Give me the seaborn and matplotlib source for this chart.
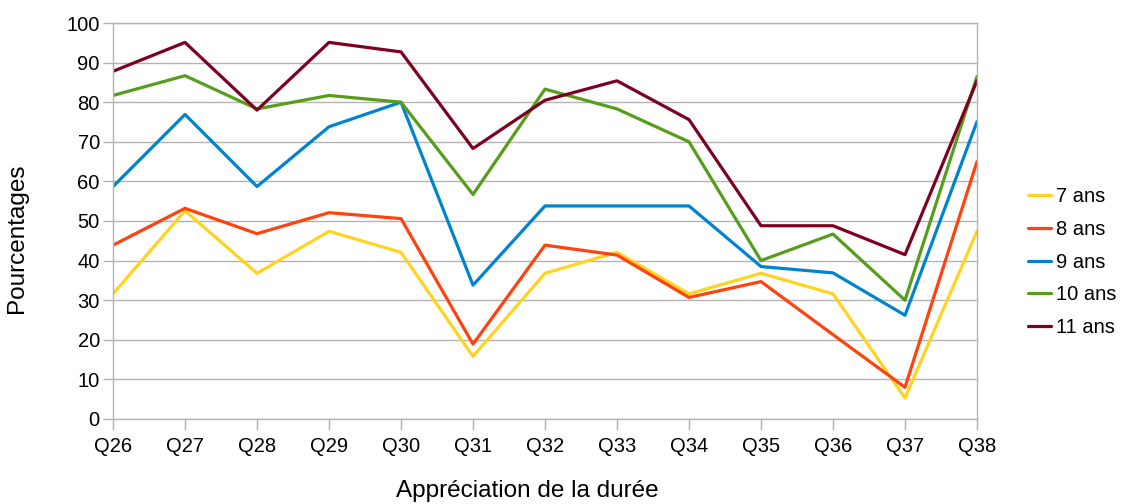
import pandas as pd
import seaborn as sns
import matplotlib.pyplot as plt

# Data
questions = ['Q26', 'Q27', 'Q28', 'Q29', 'Q30', 'Q31', 'Q32',
             'Q33', 'Q34', 'Q35', 'Q36', 'Q37', 'Q38']
ans_7 = [31.6, 52.6, 36.8, 47.4, 42.1, 15.8, 36.8, 42.1, 31.6, 36.8, 31.6, 5.3, 47.4]
ans_8 = [43.9, 53.2, 46.8, 52.1, 50.6, 18.9, 43.9, 41.4, 30.7, 34.7, 21.3, 8.0, 65.0]
ans_9 = [58.7, 76.9, 58.7, 73.8, 80.0, 33.8, 53.8, 53.8, 53.8, 38.5, 36.9, 26.2, 75.1]
ans_10 = [81.7, 86.7, 78.3, 81.7, 80.0, 56.7, 83.3, 78.3, 70.0, 40.0, 46.7, 30.0, 86.5]
ans_11 = [87.8, 95.1, 78.0, 95.1, 92.7, 68.3, 80.5, 85.4, 75.6, 48.8, 48.8, 41.5, 85.4]
series = ['7 ans', '8 ans', '9 ans', '10 ans', '11 ans']
colors = ['#ffd320', '#ff420e', '#0084d1', '#579d1c', '#7e0021']

rows = []
for name, vals in zip(series, [ans_7, ans_8, ans_9, ans_10, ans_11]):
    for q, v in zip(questions, vals):
        rows.append({'question': q, 'value': v, 'age': name})
df = pd.DataFrame(rows)

sns.set_style('white')
plt.rcParams['font.family'] = ['Liberation Sans', 'DejaVu Sans']
plt.rcParams['text.color'] = 'black'
plt.rcParams['axes.labelcolor'] = 'black'
plt.rcParams['xtick.labelcolor'] = 'black'
plt.rcParams['ytick.labelcolor'] = 'black'

fig = plt.figure(figsize=(11.24, 5.04), dpi=100)
ax = fig.add_axes([113 / 1124, 85 / 504, 864 / 1124, 396 / 504])

sns.lineplot(data=df, x='question', y='value', hue='age', hue_order=series,
             palette=colors, linewidth=2.3, sort=False, ax=ax)

ax.set_xlim(0, len(questions) - 1)
ax.set_ylim(0, 100)
ax.set_yticks(range(0, 101, 10))
ax.yaxis.grid(True, color='#b3b3b3', linewidth=1)
ax.xaxis.grid(False)
ax.set_axisbelow(True)
for s in ax.spines.values():
    s.set_color('#b3b3b3')
    s.set_linewidth(1)
ax.tick_params(axis='x', bottom=True, length=8, width=1, color='#b3b3b3',
               labelsize=14.5, pad=5, direction='out', labelcolor='black')
ax.tick_params(axis='y', left=True, length=7.5, width=1, color='#b3b3b3',
               labelsize=14.5, pad=2, direction='out', labelcolor='black')

ax.set_xlabel('Appréciation de la durée', fontsize=17.5, labelpad=18, color='black')
ax.set_ylabel('Pourcentages', fontsize=17.5, labelpad=28, color='black')
ax.xaxis.set_label_coords(0.479, -0.153)
ax.yaxis.label.set_y(0.457)

leg = ax.legend(title=None, loc='center left', bbox_to_anchor=(1.05, 0.396),
                frameon=False, fontsize=14.5, handlelength=1.15, handletextpad=0.25,
                labelspacing=0.68, borderaxespad=0)
for t in leg.get_texts():
    t.set_color('black')

fig.savefig('out.png', dpi=100)
